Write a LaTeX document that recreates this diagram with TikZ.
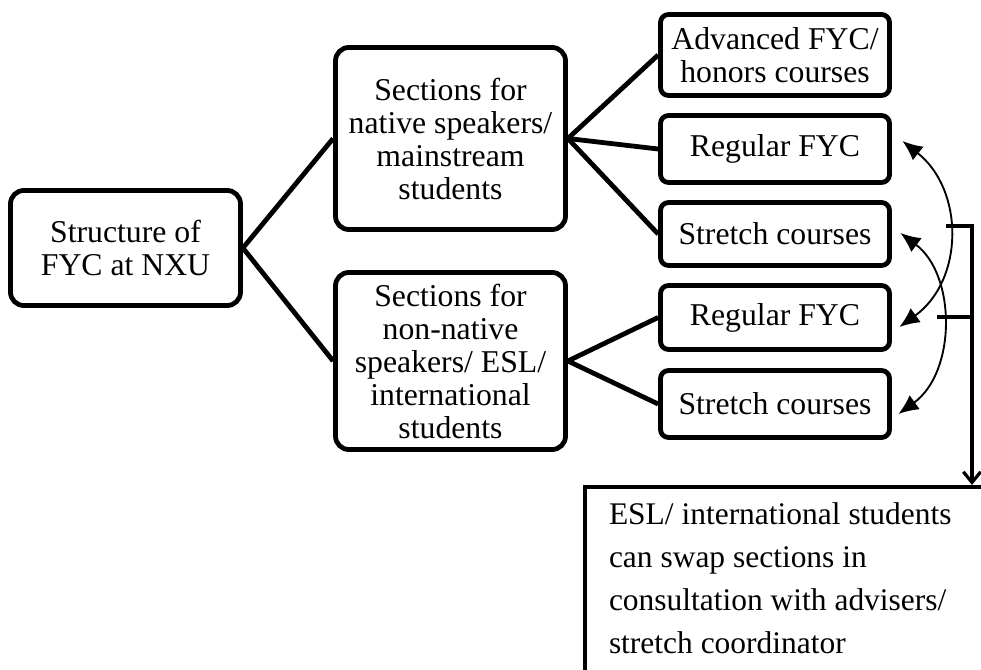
\documentclass[tikz,border=0pt]{standalone}
\usepackage{fontspec}
\setmainfont{Liberation Serif}
\usepackage{tikz}
\usetikzlibrary{arrows.meta, calc}

\begin{document}
\begin{tikzpicture}[x=0.75pt, y=-0.75pt,
        box/.style={draw, line width=3.6pt, align=center, inner sep=2pt,
            font=\fontsize{23.8pt}{24.75pt}\selectfont},
        bigbox/.style={box, rounded corners=10pt, minimum width=172.5pt},
        leafbox/.style={box, rounded corners=6pt, minimum width=171.75pt},
        notebox/.style={draw, line width=3pt, align=flush left, text width=302pt,
            inner xsep=18pt, inner ysep=12pt, text depth=250pt,
            font=\fontsize{23.6pt}{32.25pt}\selectfont},
        link/.style={line width=3.6pt},
        swap/.style={line width=1.4pt,
            {Latex[length=15pt,width=13pt]}-{Latex[length=15pt,width=13pt]}},
        bracket/.style={line width=2.4pt}]
        \useasboundingbox (0,0) rectangle (981,670);

        % The main boxes
        \node[bigbox, minimum height=86.25pt] (fyc) at (125.5,248) {Structure of\\FYC at NXU};
        \node[bigbox, minimum height=136.5pt] (native) at (450.5,138.5) {Sections for\\native speakers/\\mainstream\\students};
        \node[bigbox, minimum height=132.75pt] (nonnative) at (450.5,361) {Sections for\\non-native\\speakers/ ESL/\\international\\students};

        % The course boxes
        \node[leafbox, minimum height=60.75pt] (nadv) at (775,55) {Advanced FYC/\\honors courses};
        \node[leafbox, minimum height=50.25pt] (nreg) at (775,149) {Regular FYC};
        \node[leafbox, minimum height=47.25pt] (nstr) at (775,234) {Stretch courses};
        \node[leafbox, minimum height=48pt] (ereg) at (775,317.5) {Regular FYC};
        \node[leafbox, minimum height=50.25pt] (estr) at (775,404) {Stretch courses};

        % The note
        \node[notebox, anchor=north west] (esl) at (583,485) {ESL/ international students\\can swap sections in\\consultation with advisers/\\stretch coordinator};

        % Tree lines
        \draw[link] (fyc.east) -- (native.west);
        \draw[link] (fyc.east) -- (nonnative.west);
        \draw[link] (native.east) -- (nadv.west);
        \draw[link] (native.east) -- (nreg.west);
        \draw[link] (native.east) -- (nstr.west);
        \draw[link] (nonnative.east) -- (ereg.west);
        \draw[link] (nonnative.east) -- (estr.west);

        % Swaps
        \draw[swap] ([shift={(10.5,-8)}]nreg.east) .. controls +(62,49) and +(65,-47) .. ([shift={(7.5,9.5)}]ereg.east);
        \draw[swap] ([shift={(8.5,-1)}]nstr.east) .. controls +(56,42) and +(58,-42) .. ([shift={(6.5,10)}]estr.east);

        % Bracket to the note
        \coordinate (brtop) at (946,226);
        \coordinate (brmid) at (937,317);
        \draw[bracket, -{Straight Barb[length=8pt,width=13pt]}] (brtop) -- ++(26,0) coordinate (brcorner) -- (brcorner |- esl.north);
        \draw[bracket] (brmid) -- (brmid -| brcorner);
    \end{tikzpicture}
\end{document}
